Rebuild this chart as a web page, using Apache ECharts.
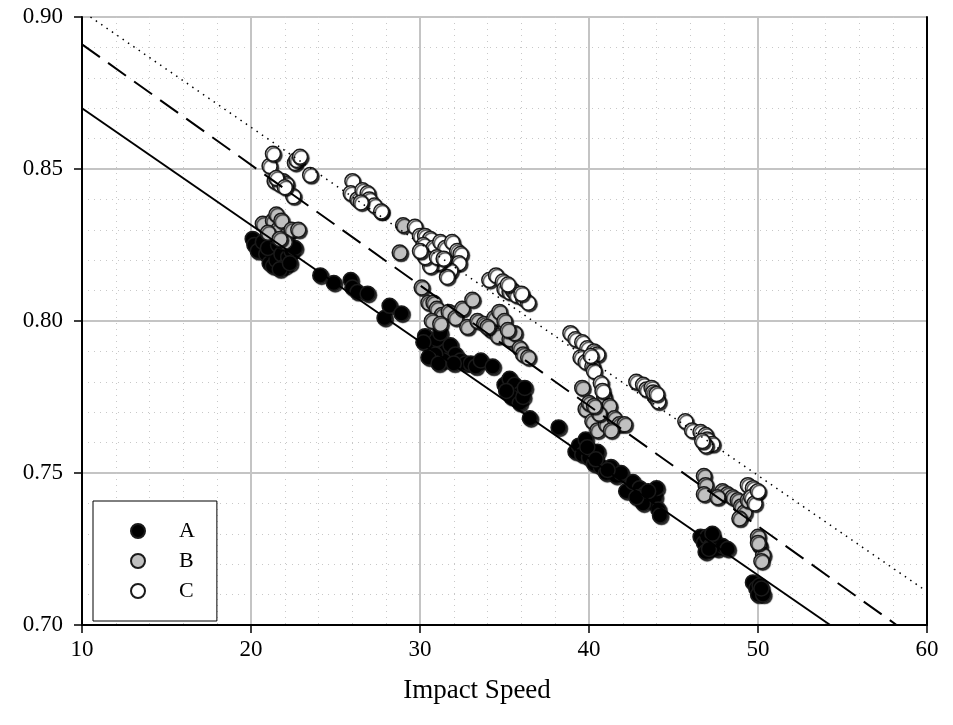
<!DOCTYPE html>
<html>
<head>
<meta charset="utf-8">
<script src="https://cdn.jsdelivr.net/npm/echarts@6/dist/echarts.min.js"></script>
<style>
  html, body { margin: 0; padding: 0; background: #fff; }
  #chart { width: 953px; height: 725px; }
</style>
</head>
<body>
<div id="chart"></div>
<script>
// Impact speed vs. response, three groups with fitted lines
const seriesNames = ['A', 'B', 'C'];

const pointsA = [
  [20.1,0.827],[20.2,0.825],[20.4,0.823],[20.7,0.826],[20.9,0.822],[21.1,0.819],[21.3,0.818],
  [21.5,0.820],[21.0,0.824],[21.6,0.825],[21.8,0.822],[22.0,0.818],[22.2,0.821],[21.7,0.817],
  [22.4,0.823],[22.6,0.824],[21.4,0.828],[21.9,0.826],[22.3,0.819],
  [24.1,0.815],[24.9,0.8125],[25.9,0.8135],[26.0,0.811],[26.3,0.8095],[26.9,0.809],
  [27.9,0.801],[28.2,0.805],[28.9,0.8025],
  [30.3,0.795],[30.6,0.792],[31.0,0.794],[31.2,0.796],[31.5,0.790],[31.8,0.792],[32.1,0.789],
  [32.4,0.787],[32.7,0.786],[33.0,0.786],[33.3,0.785],[33.6,0.787],[31.4,0.787],[30.9,0.789],
  [30.5,0.788],[31.1,0.786],[32.0,0.786],[30.2,0.793],
  [34.3,0.785],[35.0,0.779],[35.3,0.781],[35.6,0.779],[35.9,0.776],[35.4,0.775],[35.9,0.773],
  [36.1,0.775],[35.1,0.777],[36.2,0.778],[36.5,0.768],[38.2,0.765],
  [39.2,0.757],[39.4,0.759],[39.6,0.756],[39.8,0.761],[40.0,0.755],[40.3,0.753],[40.5,0.757],
  [40.7,0.752],[41.0,0.750],[41.3,0.752],[41.6,0.749],[41.9,0.750],[39.9,0.7585],[40.4,0.7545],
  [41.1,0.751],
  [42.2,0.744],[42.6,0.747],[43.0,0.745],[43.3,0.743],[43.6,0.741],[43.9,0.742],[44.1,0.738],
  [43.2,0.740],[42.8,0.742],[44.0,0.745],[43.5,0.744],[44.2,0.736],
  [46.6,0.729],[46.8,0.727],[47.0,0.729],[47.2,0.726],[47.4,0.728],[47.6,0.725],[47.9,0.726],
  [46.9,0.724],[47.3,0.730],[48.2,0.725],[47.1,0.725],
  [49.7,0.714],[49.9,0.712],[50.1,0.713],[50.0,0.710],[50.3,0.710],[50.2,0.712]
];

const pointsB = [
  [20.7,0.832],[21.3,0.833],[21.5,0.835],[21.6,0.830],[21.8,0.833],[22.1,0.828],[22.4,0.830],
  [22.8,0.830],[21.0,0.829],[22.0,0.826],[21.7,0.827],
  [27.7,0.836],[28.8,0.8225],[29.0,0.8315],
  [30.1,0.811],[30.5,0.806],[30.8,0.806],[31.0,0.804],[31.3,0.802],[31.7,0.803],[32.1,0.801],
  [32.5,0.804],[33.1,0.807],[30.7,0.800],[31.2,0.799],[32.8,0.798],
  [33.4,0.800],[33.8,0.799],[34.2,0.797],[34.4,0.801],[34.7,0.803],[35.0,0.800],[34.6,0.795],
  [35.3,0.794],[35.6,0.796],[35.9,0.791],[36.1,0.789],[36.4,0.788],[34.0,0.798],[35.2,0.797],
  [39.6,0.778],[39.8,0.771],[40.0,0.773],[40.2,0.767],[40.5,0.764],[40.7,0.770],[40.9,0.775],
  [41.0,0.766],[41.2,0.772],[41.5,0.768],[41.8,0.766],[42.1,0.766],[40.6,0.7695],[41.3,0.764],
  [40.3,0.772],
  [46.8,0.749],[46.9,0.746],[46.8,0.743],
  [47.9,0.744],[48.2,0.743],[48.5,0.742],[48.8,0.741],[49.0,0.739],[49.2,0.737],[48.9,0.735],
  [47.6,0.742],[49.4,0.741],
  [50.0,0.729],[50.1,0.726],[50.3,0.723],[50.2,0.721],[50.0,0.727]
];

const pointsC = [
  [21.1,0.851],[21.3,0.855],[21.4,0.846],[21.7,0.845],[21.9,0.846],[22.1,0.845],[22.5,0.841],
  [22.6,0.852],[22.7,0.853],[22.9,0.854],[23.5,0.848],[21.5,0.847],[22.0,0.844],
  [26.0,0.846],[25.9,0.842],[26.3,0.840],[26.6,0.843],[26.9,0.842],[27.0,0.840],[27.3,0.838],
  [27.7,0.836],[26.5,0.839],
  [29.7,0.831],[30.0,0.828],[30.3,0.828],[30.6,0.827],[30.2,0.825],[30.8,0.824],[31.2,0.826],
  [31.5,0.824],[31.9,0.826],[32.2,0.823],[32.4,0.822],[32.3,0.819],[31.8,0.8165],[31.6,0.8145],
  [31.1,0.819],[30.6,0.818],[30.3,0.821],[31.0,0.821],[31.4,0.8205],[30.0,0.823],
  [34.1,0.8135],[34.5,0.815],[34.9,0.813],[35.0,0.8105],[35.3,0.8095],[35.5,0.810],[35.7,0.8085],
  [36.1,0.8075],[36.4,0.806],[35.2,0.812],[36.0,0.809],
  [38.9,0.796],[39.2,0.794],[39.6,0.793],[39.9,0.791],[40.3,0.790],[40.5,0.789],[39.5,0.788],
  [39.8,0.7865],[40.2,0.785],[40.3,0.7835],[40.7,0.7795],[40.8,0.777],[40.1,0.7885],
  [42.8,0.780],[43.2,0.779],[43.4,0.7775],[43.7,0.778],[43.9,0.775],[44.1,0.7735],[43.8,0.7765],
  [44.0,0.776],
  [45.7,0.767],[46.1,0.764],[46.6,0.7635],[46.9,0.7625],[47.0,0.761],[47.3,0.7595],[46.9,0.759],
  [46.7,0.7605],
  [49.4,0.746],[49.7,0.745],[49.9,0.7435],[49.6,0.742],[49.8,0.740],[50.0,0.744]
];

// Fitted lines (end points)
const fitA = [[10, 0.870], [54.27, 0.700]];
const fitB = [[10, 0.891], [58.2, 0.700]];
const fitC = [[10.5, 0.900], [60, 0.711]];

const xTicks = [10, 20, 30, 40, 50, 60];
const yTicks = [0.70, 0.75, 0.80, 0.85, 0.90];

const FONT = '"Liberation Serif", "Times New Roman", serif';

const chart = echarts.init(document.getElementById('chart'), null, { renderer: 'canvas' });

function scatter(name, data, fill) {
  return {
    name: name,
    type: 'scatter',
    data: data,
    symbol: 'circle',
    symbolSize: 15,
    z: 3,
    itemStyle: {
      color: fill,
      borderColor: '#1a1a1a',
      borderWidth: 1.5,
      shadowColor: 'rgba(0,0,0,0.75)',
      shadowBlur: 1,
      shadowOffsetX: 1.5,
      shadowOffsetY: 1.5,
      opacity: 1
    },
    emphasis: { disabled: true }
  };
}

function fitLine(data, type) {
  return {
    type: 'line',
    data: data,
    symbol: 'none',
    z: 5,
    silent: true,
    lineStyle: { color: '#000', width: type === 'solid' ? 2 : (Array.isArray(type) && type[0] < 2 ? 1.5 : 2), type: type },
    emphasis: { disabled: true }
  };
}

chart.setOption({
  animation: false,
  backgroundColor: '#fff',
  grid: { left: 82, right: 26, top: 17, bottom: 100, containLabel: false },
  legend: {
    orient: 'vertical',
    left: 93,
    top: 501,
    data: seriesNames,
    icon: 'circle',
    itemWidth: 14,
    itemHeight: 14,
    itemGap: 8,
    padding: [19, 22, 19, 37],
    backgroundColor: '#fff',
    borderColor: '#000',
    borderWidth: 1,
    borderRadius: 0,
    z: 10,
    selectedMode: false,
    textStyle: { fontFamily: FONT, fontSize: 22, color: '#000', padding: [0, 0, 0, 29] }
  },
  xAxis: [{
    type: 'value',
    min: xTicks[0],
    max: xTicks[xTicks.length - 1],
    interval: 10,
    name: 'Impact Speed',
    nameLocation: 'middle',
    nameGap: 52,
    nameTextStyle: { fontFamily: FONT, fontSize: 27, color: '#000', padding: [0, 55, 0, 0] },
    axisLine: { show: true, onZero: false, lineStyle: { color: '#000', width: 2 } },
    axisTick: { show: true, length: 8, lineStyle: { color: '#000', width: 1.5 } },
    axisLabel: { fontFamily: FONT, fontSize: 23, color: '#000', margin: 13 },
    splitLine: { show: true, lineStyle: { color: '#c4c4c4', width: 2 } },
    minorTick: { show: false, splitNumber: 5 },
    minorSplitLine: { show: true, lineStyle: { color: '#c8c8c8', width: 1, type: [1, 5] } }
  }],
  yAxis: [{
    type: 'value',
    min: yTicks[0],
    max: yTicks[yTicks.length - 1],
    interval: 0.05,
    axisLine: { show: true, onZero: false, lineStyle: { color: '#000', width: 2 } },
    axisTick: { show: true, length: 8, lineStyle: { color: '#000', width: 1.5 } },
    axisLabel: { fontFamily: FONT, fontSize: 23, color: '#000', margin: 19,
      formatter: v => v.toFixed(2) },
    splitLine: { show: true, lineStyle: { color: '#c4c4c4', width: 2 } },
    minorTick: { show: false, splitNumber: 5 },
    minorSplitLine: { show: true, lineStyle: { color: '#c8c8c8', width: 1, type: [1, 5] } }
  }, {
    type: 'value',
    position: 'right',
    min: yTicks[0],
    max: yTicks[yTicks.length - 1],
    interval: 0.05,
    axisLine: { show: true, onZero: false, lineStyle: { color: '#000', width: 2 } },
    axisTick: { show: false },
    axisLabel: { show: false },
    splitLine: { show: false }
  }],
  series: [
    scatter('A', pointsA, '#000000'),
    scatter('B', pointsB, '#c0c0c0'),
    scatter('C', pointsC, '#ffffff'),
    fitLine(fitA, 'solid'),
    fitLine(fitB, [22, 10]),
    fitLine(fitC, [1.5, 5])
  ]
});
</script>
</body>
</html>
